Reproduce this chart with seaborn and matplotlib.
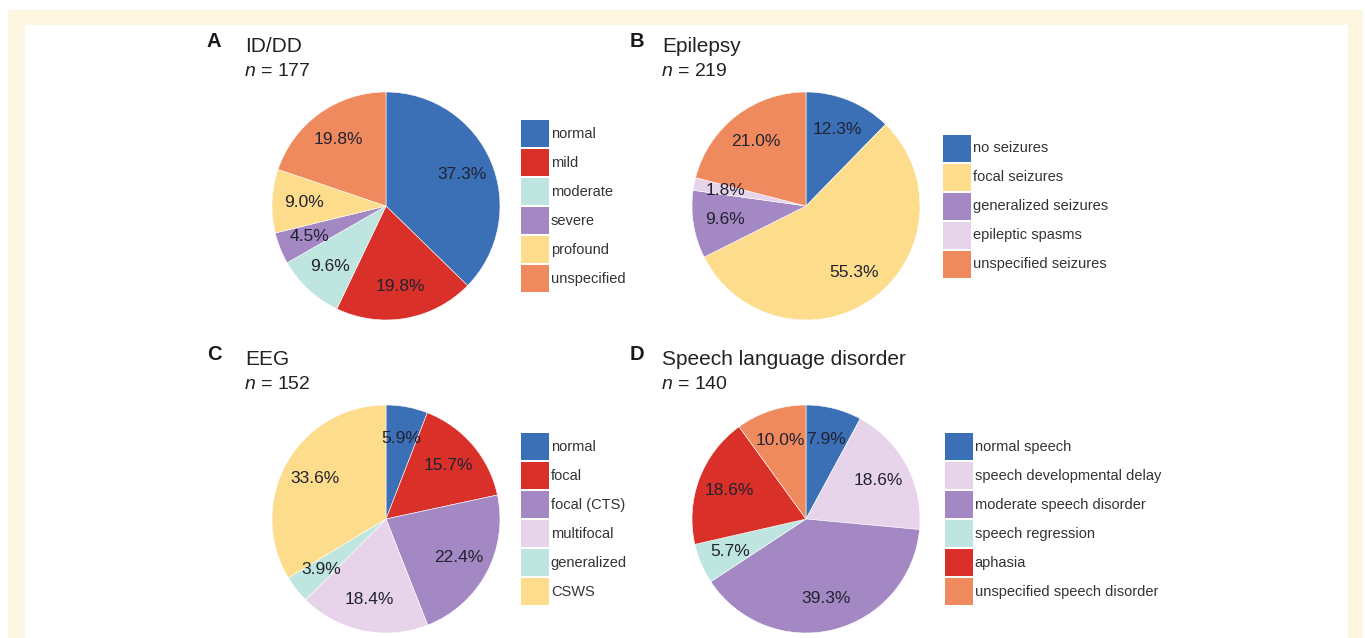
import numpy as np
import pandas as pd
import seaborn as sns
import matplotlib.pyplot as plt
from matplotlib.patches import Rectangle, Patch

sns.set_theme(style="white")
plt.rcParams['font.family'] = ['Liberation Sans', 'DejaVu Sans']
plt.rcParams['mathtext.fontset'] = 'custom'
plt.rcParams['mathtext.rm'] = 'Liberation Sans'
plt.rcParams['mathtext.it'] = 'Liberation Sans:italic'

# data (percent of patients)
idd_labels = ["normal", "mild", "moderate", "severe", "profound", "unspecified"]
idd_values = [37.3, 19.8, 9.6, 4.5, 9.0, 19.8]

epi_labels = ["no seizures", "focal seizures", "generalized seizures",
              "epileptic spasms", "unspecified seizures"]
epi_values = [12.3, 55.3, 9.6, 1.8, 21.0]

eeg_labels = ["normal", "focal", "focal (CTS)", "multifocal", "generalized", "CSWS"]
eeg_values = [5.9, 15.7, 22.4, 18.4, 3.9, 33.6]

sld_labels = ["normal speech", "speech developmental delay", "moderate speech disorder",
              "speech regression", "aphasia", "unspecified speech disorder"]
sld_values = [7.9, 18.6, 39.3, 5.7, 18.6, 10.0]

# colours
blue, red, cyan, purple = "#3b6fb6", "#d9302a", "#bee5df", "#a388c4"
yellow, orange, lilac = "#fddc8c", "#ef8a5e", "#e7d4ea"

W, H = 1365, 638
fig = plt.figure(figsize=(W / 100, H / 100), dpi=100)
fig.patch.set_facecolor("white")

# cream frame + white panel
fig.patches.append(Rectangle((8 / W, 0), (1363 - 8) / W, 1 - 10 / H,
                             transform=fig.transFigure, facecolor="#fdf6e1",
                             edgecolor="none", zorder=-10))
fig.patches.append(Rectangle((25 / W, 0), (1348 - 25) / W, 1 - 25 / H,
                             transform=fig.transFigure, facecolor="white",
                             edgecolor="none", zorder=-9))

R = 114


def panel(cx, cy, values, labels, colors, letter, title, n, lx, right):
    ax = fig.add_axes([(cx - R) / W, 1 - (cy + R) / H, 2 * R / W, 2 * R / H])
    ax.set_facecolor("none")
    ax.pie(values, colors=colors, startangle=90, counterclock=False,
           autopct='%1.1f%%', pctdistance=0.72,
           wedgeprops=dict(edgecolor="white", linewidth=0.4),
           textprops=dict(fontsize=12.5, color="#222230"))
    ax.set_xlim(-1, 1)
    ax.set_ylim(-1, 1)
    ax.set_aspect("equal")

    handles = [Patch(facecolor=c, edgecolor="none", label=l) for c, l in zip(colors, labels)]
    fs = 10.5 * 100 / 72
    fig.legend(handles=handles, loc="center left", bbox_to_anchor=(lx / W, 1 - cy / H),
               frameon=False, fontsize=10.5, handlelength=28 / fs,
               handleheight=(27 / fs - 0.245) / 0.65,
               labelspacing=2 / fs, handletextpad=0.12, borderpad=0, borderaxespad=0,
               labelcolor="#333333")

    lx0 = 630 if right else 207
    tx0 = 662 if right else 245
    top = cy - 206
    fig.text(lx0 / W, 1 - (top + 47) / H, letter,
             fontsize=14.5, fontweight="bold", color="#1a1a1a", va="baseline")
    fig.text(tx0 / W, 1 - (top + 52) / H, title,
             fontsize=15, color="#222222", va="baseline")
    fig.text((tx0 - 1) / W, 1 - (top + 76) / H, "$n$ = " + str(n),
             fontsize=14, color="#222222", va="baseline")


panel(386, 206, idd_values, idd_labels, [blue, red, cyan, purple, yellow, orange],
      "A", "ID/DD", 177, 521, False)
panel(806, 206, epi_values, epi_labels, [blue, yellow, purple, lilac, orange],
      "B", "Epilepsy", 219, 943, True)
panel(386, 519, eeg_values, eeg_labels, [blue, red, purple, lilac, cyan, yellow],
      "C", "EEG", 152, 521, False)
panel(806, 519, sld_values, sld_labels, [blue, lilac, purple, cyan, red, orange],
      "D", "Speech language disorder", 140, 945, True)

plt.savefig("out.png", dpi=100)
